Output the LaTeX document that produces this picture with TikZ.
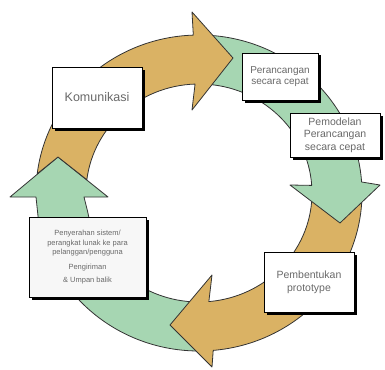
\documentclass[tikz,border=0pt]{standalone}
\usepackage{fontspec}
\setmainfont{Liberation Sans}
\usepackage{tikz}
\usetikzlibrary{calc}
\usetikzlibrary{shadows}
\definecolor{tan}{RGB}{218,178,100}
\definecolor{mint}{RGB}{166,214,178}
\definecolor{txt}{RGB}{105,105,105}
\tikzstyle{ringo}=[fill=tan,draw=black!80,line width=0.8pt,line join=round]
\tikzstyle{ringg}=[fill=mint,draw=black!80,line width=0.8pt,line join=round]
\tikzstyle{box}=[draw=black,fill=white,line width=0.6pt,text=txt,align=center,
                general shadow={fill=black,shadow xshift=2.5pt,shadow yshift=-2.5pt}]

\begin{document}
\begin{tikzpicture}[x=1pt,y=-1pt]
\useasboundingbox (0,0) rectangle (385,369);
\coordinate (c) at (199,193);
\draw[ringg] ($(c)+(88:163 and 158)$) arc[start angle=88,end angle=170,x radius=163,y radius=158]
  -- (36,197) -- (10,197) -- (58,157) -- (108,197) -- (84,197)
  -- ($(c)+(170:113 and 109)$) arc[start angle=170,end angle=88,x radius=113,y radius=109] -- cycle;
\draw[ringo] ($(c)+(2:163 and 158)$) arc[start angle=2,end angle=85,x radius=163,y radius=158]
  -- (212,367) -- (170,325) -- (212,275)
  -- ($(c)+(85:113 and 109)$) arc[start angle=85,end angle=2,x radius=113,y radius=109] -- cycle;
\draw[ringg] ($(c)+(272:163 and 158)$) arc[start angle=272,end angle=356,x radius=163,y radius=158]
  -- (380,185) -- (340,223) -- (290,185)
  -- ($(c)+(356:113 and 109)$) arc[start angle=356,end angle=272,x radius=113,y radius=109] -- cycle;
\draw[ringo] ($(c)+(187:113 and 109)$) -- (58,157)
  -- ($(c)+(187:163 and 158)$) arc[start angle=187,end angle=268,x radius=163,y radius=158]
  -- (192,12) -- (233,58) -- (192,110)
  -- ($(c)+(268:113 and 109)$) arc[start angle=268,end angle=187,x radius=113,y radius=109] -- cycle;
\node[box,minimum width=90pt,minimum height=61pt,font=\fontsize{12.5}{15}\selectfont]
  (komunikasi) at (97,97.5) {Komunikasi};
\node[box,minimum width=76pt,minimum height=47pt,font=\fontsize{10}{11}\selectfont]
  (rancang) at (280,76.5) {Perancangan\\secara cepat};
\node[box,minimum width=90pt,minimum height=44pt,font=\fontsize{10.5}{12.5}\selectfont]
  (pemodelan) at (335,135) {Pemodelan\\Perancangan\\secara cepat};
\node[box,minimum width=90pt,minimum height=60pt,font=\fontsize{10.5}{13}\selectfont]
  (prototype) at (309,282) {Pembentukan\\prototype};
\node[box,fill=gray!6,minimum width=117pt,minimum height=80pt,font=\fontsize{7.5}{9.5}\selectfont]
  (penyerahan) at (87.5,257) {Penyerahan sistem/\\perangkat lunak ke para\\pelanggan/pengguna\\[5pt]Pengiriman\\[3.5pt]\& Umpan balik};
\end{tikzpicture}
\end{document}
